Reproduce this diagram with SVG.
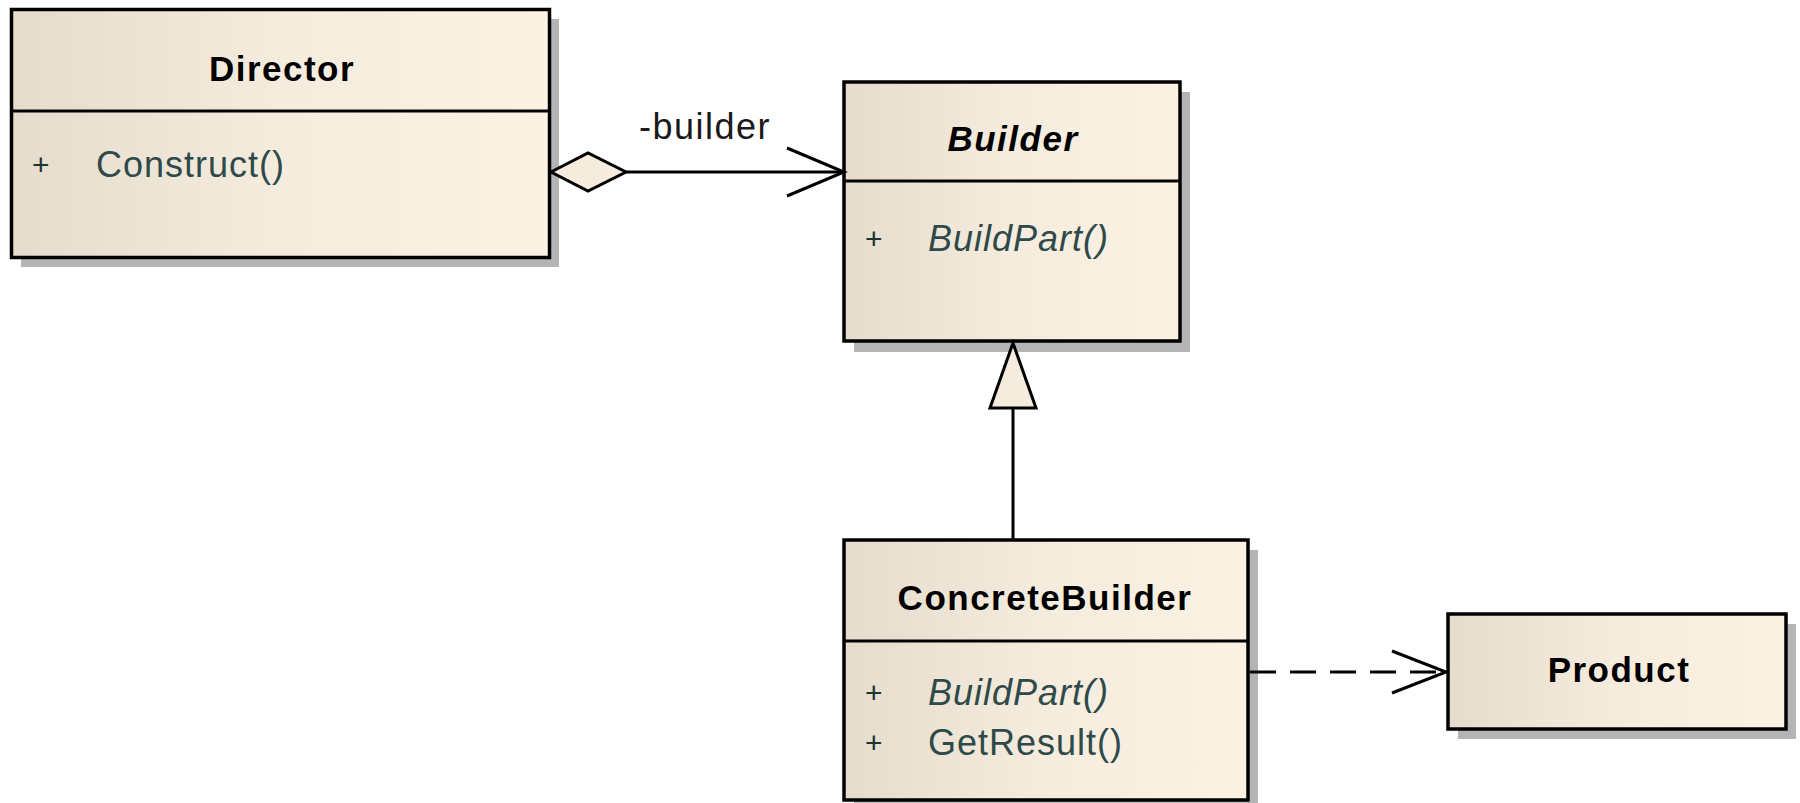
<svg xmlns="http://www.w3.org/2000/svg" width="1800" height="803" viewBox="0 0 1800 803">
<defs>
<linearGradient id="fill" x1="0" y1="0" x2="1" y2="0">
<stop offset="0" stop-color="#e6dccd"/>
<stop offset="0.5" stop-color="#f6ecdd"/>
<stop offset="1" stop-color="#fcf2e3"/>
</linearGradient>
<style>
.shadow{fill:#b4b4b4;stroke:none}
.box{fill:url(#fill);stroke:#000;stroke-width:3.5}
.div{stroke:#000;stroke-width:3}
.title{font-family:"Liberation Sans",Arial,sans-serif;font-size:35px;font-weight:bold;fill:#000;text-anchor:middle;letter-spacing:1.5px}
.mem{font-family:"Liberation Sans",Arial,sans-serif;font-size:36px;fill:#2e4a4a;letter-spacing:1px}
.plus{font-family:"Liberation Sans",Arial,sans-serif;font-size:30px;fill:#1f3333}
.it{font-style:italic}
.line{fill:none;stroke:#000;stroke-width:3}
.lbl{font-family:"Liberation Sans",Arial,sans-serif;font-size:36px;fill:#1a1a1a;letter-spacing:1.5px}
</style>
</defs>
<rect width="1800" height="803" fill="#fff"/>

<g id="director">
<rect class="shadow" x="21" y="19" width="538" height="248"/>
<rect class="box" x="11.5" y="9.5" width="538" height="248"/>
<line class="div" x1="11.5" y1="111" x2="549.5" y2="111"/>
<text class="title" x="282" y="81">Director</text>
<text class="plus" x="32" y="175">+</text>
<text class="mem" x="96" y="177">Construct()</text>
</g>

<g id="builder">
<rect class="shadow" x="854" y="92" width="336" height="260"/>
<rect class="box" x="844" y="82" width="336" height="259"/>
<line class="div" x1="844" y1="181" x2="1180" y2="181"/>
<text class="title it" x="1013" y="151">Builder</text>
<text class="plus" x="865" y="249">+</text>
<text class="mem it" x="928" y="251">BuildPart()</text>
</g>

<g id="concretebuilder">
<rect class="shadow" x="854" y="550" width="404" height="262"/>
<rect class="box" x="844" y="540" width="404" height="260"/>
<line class="div" x1="844" y1="641" x2="1248" y2="641"/>
<text class="title" x="1045" y="610">ConcreteBuilder</text>
<text class="plus" x="865" y="703">+</text>
<text class="mem it" x="928" y="705">BuildPart()</text>
<text class="plus" x="865" y="753">+</text>
<text class="mem" x="928" y="755">GetResult()</text>
</g>

<g id="product">
<rect class="shadow" x="1458" y="624" width="338" height="115"/>
<rect class="box" x="1448" y="614" width="338" height="115"/>
<text class="title" x="1619" y="682">Product</text>
</g>

<g id="connectors">
<polygon points="551,172 588,153 626,172 588,191" fill="#f6ecdd" stroke="#000" stroke-width="3"/>
<line class="line" x1="626" y1="172" x2="844" y2="172"/>
<polyline class="line" points="787,148 844,172 787,196"/>
<text class="lbl" x="639" y="139">-builder</text>
<line class="line" x1="1013" y1="408" x2="1013" y2="540"/>
<polygon points="1013,343 1036,408 990,408" fill="#f6ecdd" stroke="#000" stroke-width="3"/>
<line class="line" x1="1250" y1="672" x2="1444" y2="672" stroke-dasharray="26,14"/>
<polyline class="line" points="1392,651 1446,672 1392,693"/>
</g>
</svg>
